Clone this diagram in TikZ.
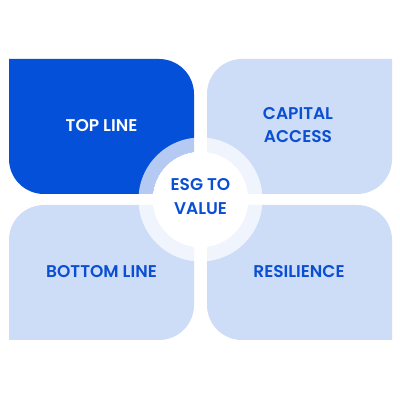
\documentclass[tikz,border=0pt]{standalone}
\usepackage{fontspec}
\setmainfont{Poppins}[BoldFont={Poppins SemiBold}]
\definecolor{darkblue}{HTML}{0450D9}
\definecolor{lightblue}{HTML}{CDDCF7}
\definecolor{txtblue}{HTML}{0A4FD2}
\begin{document}
\begin{tikzpicture}[x=1pt,y=1pt,
  lbl/.style={font=\fontsize{17}{23.5}\selectfont\bfseries, align=center, text=txtblue},
  boxlight/.style={fill=lightblue},
  boxdark/.style={fill=darkblue}]
\useasboundingbox (0,0) rectangle (400,400);
\fill[white] (0,0) rectangle (400,400);
% top-left
\fill[boxdark] (9,341) -- (159,341) arc[start angle=90,end angle=0,radius=35] -- (194,206) -- (44,206) arc[start angle=270,end angle=180,radius=35] -- cycle;
% top-right
\fill[boxlight] (392,341) -- (392,241) arc[start angle=0,end angle=-90,radius=35] -- (207,206) -- (207,306) arc[start angle=180,end angle=90,radius=35] -- cycle;
% bottom-left
\fill[boxlight] (9,60) -- (9,160) arc[start angle=180,end angle=90,radius=35] -- (194,195) -- (194,95) arc[start angle=0,end angle=-90,radius=35] -- cycle;
% bottom-right
\fill[boxlight] (392,60) -- (392,160) arc[start angle=0,end angle=90,radius=35] -- (207,195) -- (207,95) arc[start angle=180,end angle=270,radius=35] -- cycle;
% center
\coordinate (c) at (200.5,200.5);
\fill[white,opacity=0.7,even odd rule] (c) circle[radius=62] (c) circle[radius=48];
\fill[white] (c) circle[radius=48];
\node[lbl, text=white] (top) at (101.5,274.5) {TOP LINE};
\node[lbl] (cap) at (298,275) {CAPITAL\\ACCESS};
\node[lbl] (bot) at (101.5,128) {BOTTOM LINE};
\node[lbl] (res) at (299,128) {RESILIENCE};
\node[lbl] (esg) at (c) [yshift=3pt] {ESG TO\\VALUE};
\end{tikzpicture}
\end{document}
